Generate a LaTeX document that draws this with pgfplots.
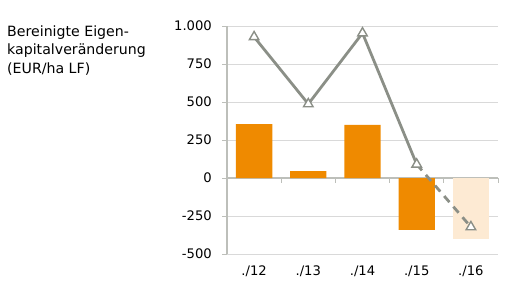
\documentclass[border=0pt]{standalone}
\usepackage{fontspec}
\setmainfont{DejaVu Sans}
\usepackage{pgfplots}
\pgfplotsset{compat=1.18}
\definecolor{barorange}{HTML}{EF8A00}
\definecolor{barlight}{HTML}{FDEAD3}
\definecolor{linegray}{HTML}{8B8F87}
\definecolor{gridgray}{HTML}{D9D9D9}
\definecolor{axisgray}{HTML}{BDBFBA}
\begin{document}
\begin{tikzpicture}[x=1bp,y=1bp]
\path[use as bounding box] (0,0) rectangle (506,280);
\node[anchor=base west, inner sep=0pt, font=\fontsize{14.2}{18}\selectfont] at (7,244) {Bereinigte Eigen-};
\node[anchor=base west, inner sep=0pt, font=\fontsize{14.2}{18}\selectfont] at (7,225.5) {kapitalveränderung};
\node[anchor=base west, inner sep=0pt, font=\fontsize{14.2}{18}\selectfont] at (7,207) {(EUR/ha LF)};
\begin{axis}[
  at={(227bp,26bp)}, anchor=south west,
  scale only axis, width=271bp, height=228bp,
  xmin=-0.5, xmax=4.5, ymin=-500, ymax=1000,
  axis x line=none,
  axis y line*=left,
  y axis line style={draw=axisgray, line width=1.6pt},
  ytick={-500,-250,0,250,500,750,1000},
  yticklabels={-500,-250,0,250,500,750,1.000},
  ymajorgrids, major grid style={draw=gridgray, line width=1pt},
  major tick length=5bp,
  ytick style={draw=axisgray, line width=1pt},
  tick align=outside,
  yticklabel style={font=\fontsize{13.2}{15}\selectfont, anchor=east, inner sep=0pt, xshift=-10bp},
  clip=false,
]
\draw[axisgray, line width=1.6pt] (axis cs:-0.5,0) -- (axis cs:4.5,0);
\pgfplotsinvokeforeach{0.5,1.5,2.5,3.5,4.5}{
  \draw[axisgray, line width=1pt] (axis cs:#1,0) -- ++(0pt,-5bp);
}
\node[font=\fontsize{13.2}{15}\selectfont] at (axis cs:0,-500) [yshift=-17bp] {./12};
\node[font=\fontsize{13.2}{15}\selectfont] at (axis cs:1,-500) [yshift=-17bp] {./13};
\node[font=\fontsize{13.2}{15}\selectfont] at (axis cs:2,-500) [yshift=-17bp] {./14};
\node[font=\fontsize{13.2}{15}\selectfont] at (axis cs:3,-500) [yshift=-17bp] {./15};
\node[font=\fontsize{13.2}{15}\selectfont] at (axis cs:4,-500) [yshift=-17bp] {./16};
\addplot[ybar, bar width=0.67, bar shift=0pt, fill=barorange, draw=none]
  coordinates {(0,355) (1,46) (2,349) (3,-342)};
\addplot[ybar, bar width=0.67, bar shift=0pt, fill=barlight, draw=none]
  coordinates {(4,-399)};
\addplot[linegray, line width=2.8pt, mark=triangle*, mark size=5.5bp,
  mark options={fill=white, draw=linegray, line width=1.4pt, solid}]
  coordinates {(0,928) (1,487) (2,953) (3,90)};
\addplot[linegray, line width=2.8pt, dash pattern=on 8bp off 6bp, mark=triangle*, mark size=5.5bp,
  mark options={fill=white, draw=linegray, line width=1.4pt, solid}, mark indices={2}]
  coordinates {(3,90) (4,-322)};
\end{axis}
\end{tikzpicture}
\end{document}
